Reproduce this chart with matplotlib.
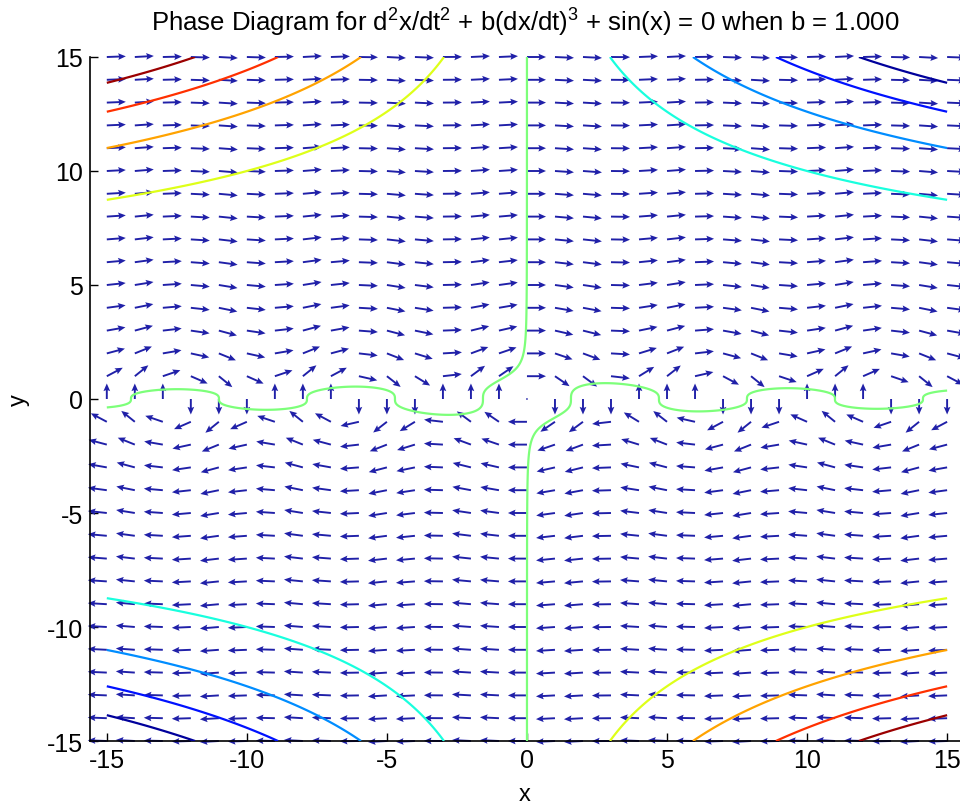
import numpy as np
import matplotlib
matplotlib.use('Agg')
import matplotlib.pyplot as plt
from matplotlib.colors import Normalize

plt.rcParams['font.family'] = ['Liberation Sans Narrow', 'Liberation Sans', 'DejaVu Sans']
plt.rcParams['mathtext.fontset'] = 'custom'
plt.rcParams['mathtext.rm'] = 'Liberation Sans'
plt.rcParams['axes.unicode_minus'] = False

# parameter of the equation in the title
b = 1.0

# arrow grid (one arrow per integer point)
grid_x = np.arange(-15, 16)
grid_y = np.arange(-15, 16)

# contour levels and axis ticks
levels = [-40000, -30000, -20000, -10000, 0, 10000, 20000, 30000, 40000]
xticks = [-15, -10, -5, 0, 5, 10, 15]
yticks = [-15, -10, -5, 0, 5, 10, 15]
title = ('Phase Diagram for d$^{2}$x/dt$^{2}$ + b(dx/dt)$^{3}$ + sin(x) = 0 '
         'when b = %.3f' % b)

fig = plt.figure(figsize=(9.6, 8.12), dpi=100)
ax = fig.add_axes([90 / 960, 1 - 742 / 812, 870 / 960, 684 / 812])

# direction field, arrows of equal length
X, Y = np.meshgrid(grid_x, grid_y)
U = Y.astype(float)
V = -np.sin(X)
L = np.hypot(U, V)
L[L == 0] = 1
ax.quiver(X, Y, U / L, V / L, angles='xy', scale_units='xy', scale=1 / 0.68,
          color='#2020a8', width=0.0022, headwidth=3.5, headlength=4,
          headaxislength=3.5, pivot='tail', clip_on=False, zorder=2)

# level curves
cx = np.linspace(-15, 15, 901)
cy = np.linspace(-15, 15, 901)
CX, CY = np.meshgrid(cx, cy)
F = -(b * CX * CY ** 3 + np.cos(CX))
ax.contour(CX, CY, F, levels=levels, cmap='jet',
           norm=Normalize(vmin=-42000, vmax=42000), linewidths=1.6, zorder=3)

ax.set_xlim(-15.6, 15.46)
ax.set_ylim(-15, 15)
ax.set_xticks(xticks)
ax.set_yticks(yticks)
ax.tick_params(direction='in', length=6, labelsize=18, width=1, pad=5)
ax.spines['top'].set_visible(False)
ax.spines['right'].set_visible(False)
for s in ('left', 'bottom'):
    ax.spines[s].set_linewidth(1.2)
ax.set_xlabel('x', fontsize=17, labelpad=8)
ax.set_ylabel('y', fontsize=17, labelpad=12)
ax.set_title(title, fontsize=18.5, pad=20)

fig.savefig('out.png', dpi=100)
